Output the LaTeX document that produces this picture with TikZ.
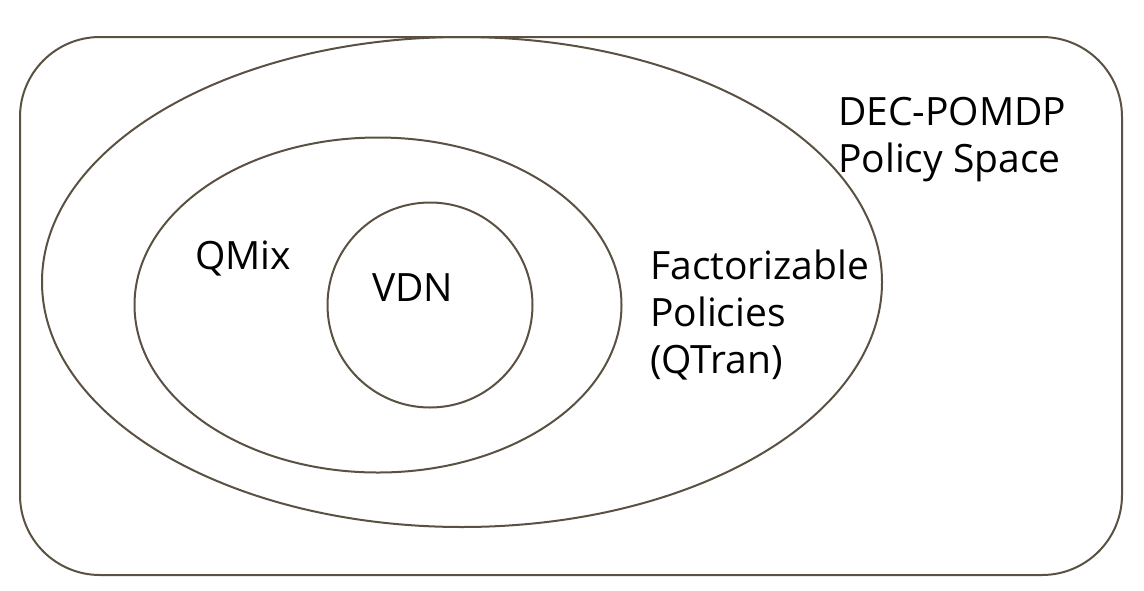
\documentclass[tikz,border=0pt]{standalone}
\usepackage{fontspec}
\setmainfont{Open Sans}
\usetikzlibrary{shapes.geometric}
\definecolor{rim}{HTML}{5B5142}
\begin{document}
\begin{tikzpicture}[x=1pt,y=-1pt,
	region/.style={draw=rim,line width=2pt,inner sep=0},
	label/.style={anchor=base west,inner sep=0,align=left,
	font=\fontsize{39}{47}\selectfont}]
\useasboundingbox (0,0) rectangle (1144,590);
\node[region,rectangle,rounded corners=80pt,minimum width=1102pt,minimum height=538pt] (space) at (571,306) {};
\node[region,ellipse,minimum width=840pt,minimum height=490pt] (fact) at (462,282) {};
\node[region,ellipse,minimum width=487pt,minimum height=335pt] (qmix) at (378,305) {};
\node[region,circle,minimum size=205pt] (vdn) at (430,305) {};
% multi-line labels sit on their last baseline
\node[label] (spacetext) at (838,172) {DEC-POMDP\\Policy Space};
\node[label] (facttext) at (650,373) {Factorizable\\Policies\\(QTran)};
\node[label] (qmixtext) at (195,269) {QMix};
\node[label] (vdntext) at (372,301) {VDN};
\end{tikzpicture}
\end{document}
